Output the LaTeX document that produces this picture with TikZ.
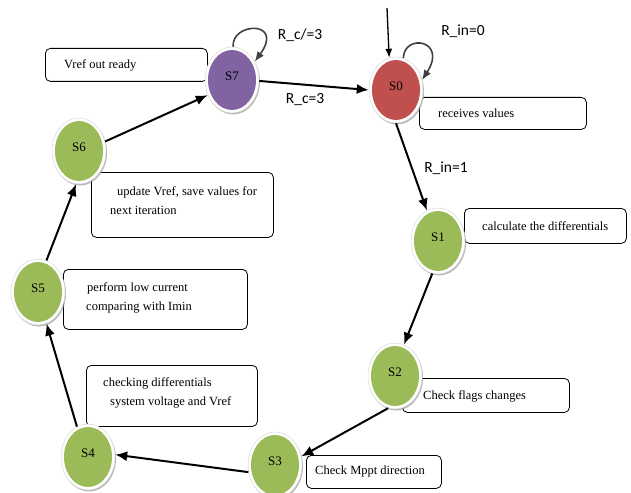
\documentclass[tikz,border=0pt]{standalone}
\usepackage{fontspec}
\setmainfont{Liberation Serif}
\newfontfamily\lblfont{Carlito}
\usetikzlibrary{shapes.geometric,arrows.meta,shadows}
\definecolor{stpurple}{HTML}{8064A2}
\definecolor{stred}{HTML}{C0504D}
\definecolor{stgreen}{HTML}{9BBB59}
\definecolor{loopgray}{HTML}{404040}
\begin{document}
\begin{tikzpicture}[x=1pt,y=-1pt,
  state/.style={ellipse, minimum width=54pt, minimum height=66pt, inner sep=0pt,
    fill=white, draw=black!15, line width=0.5pt,
    drop shadow={shadow xshift=1pt, shadow yshift=-1.5pt, fill=black!40, opacity=0.7},
    path picture={\fill[#1] (path picture bounding box.center) ellipse [x radius=24pt, y radius=30pt];}},
  slabel/.style={font=\fontsize{13}{15}\selectfont, yshift=4pt},
  infobox/.style={draw=black, line width=0.8pt, rounded corners=5pt, fill=white, inner sep=0pt, anchor=north west},
  txt/.style={font=\fontsize{12.5}{19}\selectfont, align=left, inner sep=0pt, anchor=west},
  lbl/.style={font=\lblfont\fontsize{15.5}{18}\selectfont, inner sep=0pt},
  trans/.style={draw=black, line width=2pt, -{Latex[length=12pt,width=10pt]}},
  entry/.style={draw=black, line width=1.3pt, -{Latex[length=9pt,width=7pt]}},
  selfloop/.style={draw=loopgray, line width=1.6pt, -{Latex[length=10pt,width=8pt]}}
]
\useasboundingbox (0,0) rectangle (631,492);

% info boxes
\node[infobox, minimum width=162pt, minimum height=33pt] (b7) at (45,48) {};
\node[txt] (t7) at (64,65) {Vref out ready};
\node[infobox, minimum width=182pt, minimum height=65pt] (b6) at (91,172) {};
\node[txt] (t6) at (110,200.5) {\hspace*{7pt}update Vref, save values for\\next iteration};
\node[infobox, minimum width=167pt, minimum height=32pt] (b0) at (419,97) {};
\node[txt] (t0) at (438,113) {receives values};
\node[infobox, minimum width=162pt, minimum height=35pt] (b1) at (464,208) {};
\node[txt] (t1) at (482,226) {calculate the differentials};
\node[infobox, minimum width=167pt, minimum height=34pt] (b2) at (402,378) {};
\node[txt] (t2) at (423,396) {Check flags changes};
\node[infobox, minimum width=135pt, minimum height=33pt] (b3) at (306,455) {};
\node[txt] (t3) at (315,471) {Check Mppt direction};
\node[infobox, minimum width=184pt, minimum height=60pt] (b5) at (63,269) {};
\node[txt] (t5) at (86,297.5) {\hspace*{1pt}perform low current\\comparing with Imin};
\node[infobox, minimum width=171pt, minimum height=61pt] (b4) at (86,365) {};
\node[txt] (t4) at (103,393) {checking differentials\\\hspace*{7pt}system voltage and Vref};

% states
\node[state=stpurple, label={[slabel]center:S7}] (s7) at (232,80) {};
\node[state=stred,    label={[slabel]center:S0}] (s0) at (396,90) {};
\node[state=stgreen,  label={[slabel]center:S1}] (s1) at (438,241) {};
\node[state=stgreen,  label={[slabel]center:S2}] (s2) at (395,376) {};
\node[state=stgreen,  label={[slabel]center:S3}] (s3) at (275,465) {};
\node[state=stgreen,  label={[slabel]center:S4}] (s4) at (88,457) {};
\node[state=stgreen,  label={[slabel]center:S5}] (s5) at (38,292) {};
\node[state=stgreen,  label={[slabel]center:S6}] (s6) at (79,151) {};

% transitions
\coordinate (start) at (387,8);
\draw[entry] (start) -- (s0.102);
\draw[trans] (s7.-2) -- (s0.180);
\draw[trans] (s0.270) -- (s1.110);
\draw[trans] (s1.260) -- (s2.74);
\draw[trans] (s2.258) -- (s3.18);
\draw[trans] (s3.195) -- (s4.5);
\draw[trans] (s4.110) -- (s5.285);
\draw[trans] (s5.75) -- (s6.265);
\draw[trans] (s6.20) -- (s7.212);

% self loops
\draw[selfloop] (s0.77) .. controls (404,33) and (448,40) .. (s0.21);
\draw[selfloop] (s7.88) .. controls (231,22) and (285,20) .. (s7.39);

% transition labels
\node[lbl] (l1) at (300,35) {R\_c/=3};
\node[lbl] (l2) at (305,100) {R\_c=3};
\node[lbl] (l3) at (463,31) {R\_in=0};
\node[lbl] (l4) at (446,168) {R\_in=1};
\end{tikzpicture}
\end{document}
